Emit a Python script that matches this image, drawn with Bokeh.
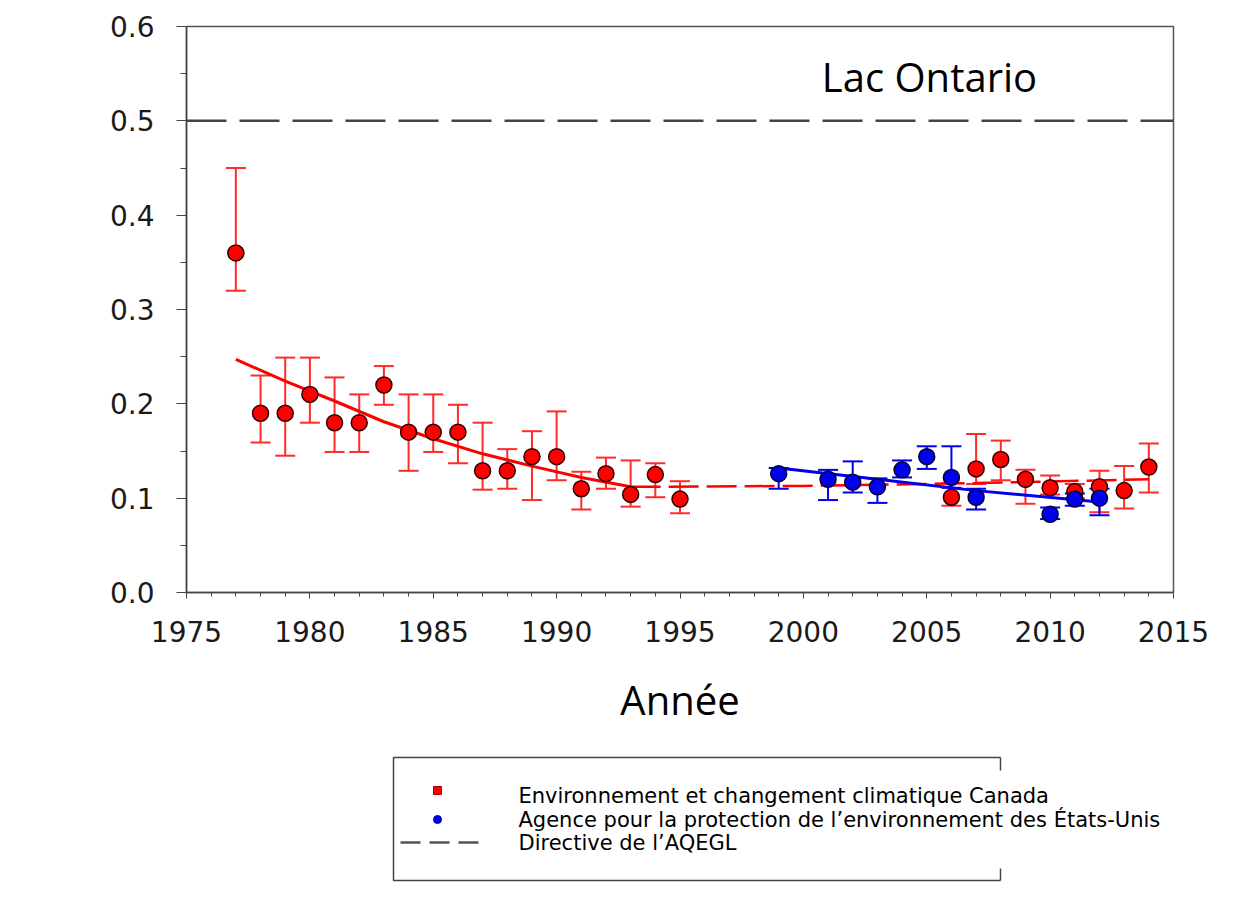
from bokeh.plotting import figure
from bokeh.models import (Range1d, SingleIntervalTicker, FixedTicker, NumeralTickFormatter, Whisker,
                          TeeHead, ColumnDataSource, Span, Label)
from bokeh.layouts import column
from bokeh.core.properties import value
from bokeh.embed import file_html
from bokeh.resources import INLINE

# ---------------- data ----------------
eccc_years = [1977, 1978, 1979, 1980, 1981, 1982, 1983, 1984, 1985, 1986, 1987, 1988, 1989,
              1990, 1991, 1992, 1993, 1994, 1995,
              2006, 2007, 2008, 2009, 2010, 2011, 2012, 2013, 2014]
eccc_vals = [0.360, 0.190, 0.190, 0.210, 0.180, 0.180, 0.220, 0.170, 0.170, 0.170, 0.129, 0.129, 0.144,
             0.144, 0.110, 0.126, 0.104, 0.125, 0.099,
             0.101, 0.131, 0.141, 0.120, 0.111, 0.107, 0.112, 0.108, 0.133]
eccc_low = [0.320, 0.159, 0.145, 0.180, 0.149, 0.149, 0.199, 0.129, 0.149, 0.137, 0.109, 0.110, 0.098,
            0.119, 0.088, 0.110, 0.091, 0.101, 0.084,
            0.092, 0.115, 0.119, 0.094, 0.104, 0.100, 0.085, 0.089, 0.106]
eccc_high = [0.450, 0.230, 0.249, 0.249, 0.228, 0.210, 0.240, 0.210, 0.210, 0.199, 0.180, 0.152, 0.171,
             0.192, 0.128, 0.143, 0.140, 0.137, 0.118,
             0.116, 0.168, 0.161, 0.130, 0.124, 0.115, 0.129, 0.134, 0.158]

epa_years = [1999, 2001, 2002, 2003, 2004, 2005, 2006, 2007, 2010, 2011, 2012]
epa_vals = [0.126, 0.120, 0.117, 0.112, 0.130, 0.144, 0.122, 0.101, 0.083, 0.099, 0.100]
epa_low = [0.110, 0.098, 0.106, 0.095, 0.122, 0.131, 0.111, 0.088, 0.078, 0.092, 0.082]
epa_high = [0.132, 0.130, 0.139, 0.121, 0.140, 0.155, 0.155, 0.110, 0.090, 0.105, 0.110]

eccc_trend_years = [1977, 1979, 1981, 1983, 1985, 1987, 1989, 1991, 1993]
eccc_trend_vals = [0.247, 0.224, 0.203, 0.181, 0.163, 0.147, 0.134, 0.122, 0.112]
eccc_trend2_years = [1993, 2000, 2007, 2014]
eccc_trend2_vals = [0.112, 0.113, 0.116, 0.120]
epa_trend_years = [1999, 2003, 2007, 2012]
epa_trend_vals = [0.132, 0.120, 0.108, 0.096]

guideline = 0.5

y_ticks = [0.0, 0.1, 0.2, 0.3, 0.4, 0.5, 0.6]
y_minor_ticks = [0.05, 0.15, 0.25, 0.35, 0.45, 0.55]

title_text = "Lac Ontario"
x_label = "Année"
legend_labels = ["Environnement et changement climatique Canada",
                 "Agence pour la protection de l\u2019environnement des États-Unis",
                 "Directive de l\u2019AQEGL"]

RED = "#ff0000"
BLUE = "#0000ee"
TICK_FONT = "DejaVu Sans"

W = 1232
H1 = 743
H2 = 150

# ---------------- main chart ----------------
p = figure(width=W, height=H1, output_backend="svg", toolbar_location=None,
           x_range=Range1d(1975, 2015), y_range=Range1d(0, 0.6),
           min_border_left=186, min_border_right=W - 1173, min_border_top=26,
           min_border_bottom=H1 - 592)
p.xgrid.visible = False
p.ygrid.visible = False
p.outline_line_color = "#555555"
p.outline_line_width = 1.5
p.background_fill_color = "white"
p.border_fill_color = "white"

p.xaxis.ticker = SingleIntervalTicker(interval=5, num_minor_ticks=5)
p.yaxis.ticker = FixedTicker(ticks=y_ticks, minor_ticks=y_minor_ticks)
p.yaxis.formatter = NumeralTickFormatter(format="0.0")
for ax in (p.xaxis[0], p.yaxis[0]):
    ax.axis_line_color = "#444444"
    ax.axis_line_width = 1.5
    ax.major_tick_line_color = "#444444"
    ax.minor_tick_line_color = "#444444"
    ax.major_tick_in = 0
    ax.minor_tick_in = 0
    ax.major_label_text_font = TICK_FONT
    ax.major_label_text_font_size = "28px"
    ax.major_label_text_color = "#1a1a1a"
p.xaxis.major_tick_out = 6
p.xaxis.minor_tick_out = 4
p.xaxis.major_label_standoff = 22
p.yaxis.major_tick_out = 10
p.yaxis.minor_tick_out = 6
p.yaxis.major_label_standoff = 22

p.xaxis.axis_label = x_label
p.xaxis.axis_label_text_font = "Open Sans"
p.xaxis.axis_label_text_font_size = "40px"
p.xaxis.axis_label_text_font_style = "normal"
p.xaxis.axis_label_text_color = "black"
p.xaxis.axis_label_standoff = 27

# guideline
p.add_layout(Span(location=guideline, dimension="width", line_color="#444444",
                  line_width=2.5, line_dash="40 13"))

# ECCC series
src_e = ColumnDataSource(dict(x=eccc_years, y=eccc_vals, lo=eccc_low, hi=eccc_high))
p.add_layout(Whisker(source=src_e, base="x", lower="lo", upper="hi",
                     line_color="#ff2a2a", line_width=2,
                     upper_head=TeeHead(size=20, line_color="#ff2a2a", line_width=2),
                     lower_head=TeeHead(size=20, line_color="#ff2a2a", line_width=2)))
p.line(eccc_trend_years, eccc_trend_vals, line_color=RED, line_width=3)
p.line(eccc_trend2_years, eccc_trend2_vals, line_color=RED, line_width=2.5, line_dash="30 8")
p.scatter("x", "y", source=src_e, size=16, fill_color=RED, line_color="#300000", line_width=1.5)

# EPA series
src_a = ColumnDataSource(dict(x=epa_years, y=epa_vals, lo=epa_low, hi=epa_high))
p.add_layout(Whisker(source=src_a, base="x", lower="lo", upper="hi",
                     line_color=BLUE, line_width=2,
                     upper_head=TeeHead(size=20, line_color=BLUE, line_width=2),
                     lower_head=TeeHead(size=20, line_color=BLUE, line_width=2)))
p.line(epa_trend_years, epa_trend_vals, line_color=BLUE, line_width=3)
p.scatter("x", "y", source=src_a, size=16, fill_color=BLUE, line_color="#000030", line_width=1.5)

p.add_layout(Label(x=743, y=516, x_units="screen", y_units="screen", text=title_text,
                   text_font="Open Sans", text_font_size="40px", text_color="black",
                   text_align="center", text_baseline="alphabetic"))

# ---------------- legend panel (page pixel coordinates) ----------------
lg = figure(width=W, height=H2, output_backend="svg", toolbar_location=None,
            x_range=Range1d(186, 1173), y_range=Range1d(H1 + H2, H1),
            x_axis_type=None, y_axis_type=None,
            min_border_left=186, min_border_right=W - 1173, min_border_top=0, min_border_bottom=0)
lg.xgrid.visible = False
lg.ygrid.visible = False
lg.outline_line_color = None
lg.background_fill_color = "white"
lg.border_fill_color = "white"

# box (open on the right, as in the original)
box_l, box_r, box_t, box_b = 393, 1000, 757, 880
lg.multi_line(xs=[[box_r, box_l, box_l, box_r], [box_r, box_r], [box_r, box_r]],
              ys=[[box_t, box_t, box_b, box_b], [box_t, box_t + 13], [box_b - 12, box_b]],
              line_color="#444444", line_width=1.5)
row_y = [795, 819, 842]
lg.scatter([437], [row_y[0] - 5], marker="square", size=8, fill_color=RED, line_color="#aa0000")
lg.scatter([437], [row_y[1]], marker="circle", size=8, fill_color=BLUE, line_color="#0000aa")
lg.line([400, 486], [row_y[2], row_y[2]], line_color="#555555", line_width=2.5, line_dash="20 9")
lg.text(x=[518] * 3, y=row_y, text=legend_labels, text_font=value("DejaVu Sans"),
        text_font_size="21px", text_color="black", text_baseline="middle", text_align="left")

layout = column(p, lg, spacing=0)
open("out.html", "w").write(file_html(layout, INLINE))
